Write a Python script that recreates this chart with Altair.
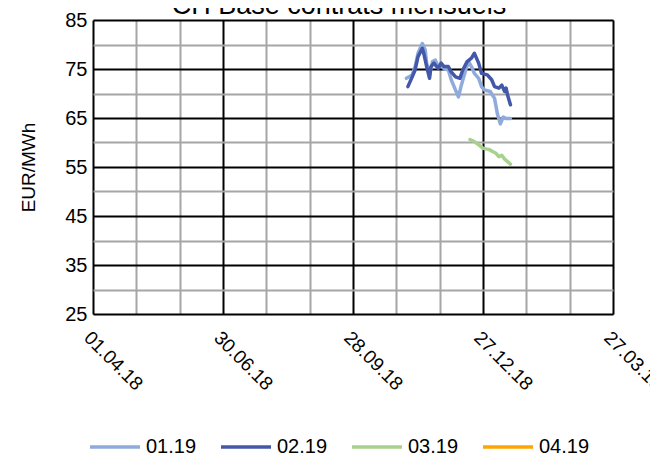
import altair as alt
import pandas as pd

series_names = ["01.19", "02.19", "03.19", "04.19"]
series_colors = ["#8FAADC", "#4358A8", "#A9D18E", "#FFA500"]

dates_0119 = ["2018-11-04", "2018-11-08", "2018-11-10", "2018-11-12", "2018-11-15", "2018-11-17",
              "2018-11-18", "2018-11-20", "2018-11-22", "2018-11-24", "2018-11-26", "2018-11-28",
              "2018-11-30", "2018-12-03", "2018-12-05", "2018-12-08", "2018-12-10", "2018-12-12",
              "2018-12-15", "2018-12-17", "2018-12-19", "2018-12-21", "2018-12-24", "2018-12-26",
              "2018-12-28", "2019-01-01", "2019-01-04", "2019-01-06", "2019-01-08", "2019-01-10",
              "2019-01-12", "2019-01-15"]
vals_0119 = [73.1, 73.8, 75.5, 78.2, 80.2, 78.9, 76.2, 73.8, 76.5, 76.8, 75.5, 75.8,
             75.1, 74.8, 72.8, 70.7, 69.3, 71.7, 74.8, 76.5, 75.5, 74.1, 73.1, 71.4,
             70.7, 70.4, 69.0, 65.8, 63.8, 65.2, 64.9, 64.9]

dates_0219 = ["2018-11-05", "2018-11-08", "2018-11-10", "2018-11-12", "2018-11-15", "2018-11-16",
              "2018-11-18", "2018-11-20", "2018-11-21", "2018-11-23", "2018-11-26", "2018-11-28",
              "2018-11-30", "2018-12-03", "2018-12-05", "2018-12-08", "2018-12-11", "2018-12-13",
              "2018-12-16", "2018-12-19", "2018-12-21", "2018-12-24", "2018-12-26", "2018-12-30",
              "2019-01-02", "2019-01-04", "2019-01-07", "2019-01-09", "2019-01-11", "2019-01-12",
              "2019-01-13", "2019-01-15"]
vals_0219 = [71.4, 73.4, 74.8, 77.5, 79.2, 78.2, 75.5, 73.1, 75.5, 76.2, 75.1, 76.2,
             75.5, 75.5, 74.4, 73.4, 73.1, 74.8, 76.5, 77.2, 78.2, 76.2, 74.1, 73.8,
             72.8, 71.4, 71.1, 71.7, 70.4, 71.1, 69.7, 67.7]

dates_0319 = ["2018-12-18", "2018-12-21", "2018-12-25", "2018-12-27", "2018-12-31", "2019-01-03",
              "2019-01-05", "2019-01-07", "2019-01-09", "2019-01-11", "2019-01-13", "2019-01-15"]
vals_0319 = [60.6, 60.2, 59.3, 58.8, 58.6, 58.1, 57.8, 57.1, 57.4, 56.6, 56.1, 55.6]

x_tick_dates = ["2018-04-01", "2018-05-01", "2018-05-31", "2018-06-30", "2018-07-30", "2018-08-29",
                "2018-09-28", "2018-10-28", "2018-11-27", "2018-12-27", "2019-01-26", "2019-02-25",
                "2019-03-27"]
y_ticks = [25, 30, 35, 40, 45, 50, 55, 60, 65, 70, 75, 80, 85]

rows = []
for name, ds, vs in [("01.19", dates_0119, vals_0119),
                     ("02.19", dates_0219, vals_0219),
                     ("03.19", dates_0319, vals_0319)]:
    for d, v in zip(ds, vs):
        rows.append({"date": d, "value": v, "contract": name})
df = pd.DataFrame(rows)


def utc_dt(s):
    t = pd.Timestamp(s)
    return alt.DateTime(year=t.year, month=t.month, date=t.day, utc=True)


FONT = "Liberation Sans"
x_domain = [utc_dt(x_tick_dates[0]), utc_dt(x_tick_dates[-1])]
MAJOR_TEST = "round((datum.value - 1522540800000) / 86400000) % 90 == 0"

chart = alt.Chart(df).mark_line(strokeWidth=3.5, strokeJoin="round", strokeCap="round").encode(
    x=alt.X("date:T",
            scale=alt.Scale(type="utc", domain=x_domain, nice=False),
            axis=alt.Axis(values=[utc_dt(s) for s in x_tick_dates],
                          formatType="time", format="%d.%m.%y",
                          labelExpr="(" + MAJOR_TEST + ") ? utcFormat(datum.value, '%d.%m.%y') : ''",
                          labelAngle=45, labelAlign="left", labelBaseline="top",
                          labelPadding=14, labelFontSize=19, labelFont=FONT, labelColor="#000000",
                          gridColor={"condition": {"test": MAJOR_TEST, "value": "#000000"},
                                     "value": "#A6A6A6"},
                          gridWidth=2, grid=True, ticks=False, domain=False, title=None,
                          labelOverlap=False, labelBound=False, labelFlush=False)),
    y=alt.Y("value:Q",
            scale=alt.Scale(domain=[25, 85], nice=False, zero=False),
            axis=alt.Axis(values=y_ticks,
                          labelExpr="datum.value % 10 == 5 ? datum.label : ''",
                          gridColor={"condition": {"test": "datum.value % 10 == 5", "value": "#000000"},
                                     "value": "#A6A6A6"},
                          gridWidth=2, ticks=False, domain=False,
                          labelFontSize=20, labelFont=FONT, labelColor="#000000", labelPadding=6,
                          title="EUR/MWh", titleFontSize=19, titleFont=FONT, titleFontWeight="normal",
                          titleColor="#000000", titlePadding=26, labelOverlap=False)),
    color=alt.Color("contract:N",
                    scale=alt.Scale(domain=series_names, range=series_colors),
                    legend=alt.Legend(orient="none", legendX=-5, legendY=400, direction="horizontal",
                                      columns=4, symbolType="stroke", symbolSize=2500,
                                      symbolStrokeWidth=3.5, labelFontSize=20, labelFont=FONT,
                                      labelColor="#000000", labelOffset=4, columnPadding=17,
                                      padding=0, title=None)),
).properties(
    width=520,
    height=294,
    title=alt.TitleParams("CH Base contrats mensuels", fontSize=27, font=FONT, fontWeight="normal",
                          color="#000000", anchor="middle", dx=-14, offset=-31, baseline="alphabetic"),
    autosize=alt.AutoSizeParams(type="none"),
    padding={"left": 85, "top": 12, "right": 37, "bottom": 142},
).configure_view(stroke=None).configure(background="#FFFFFF")

chart.save("out.html", embed_options={"renderer": "svg", "actions": False})
